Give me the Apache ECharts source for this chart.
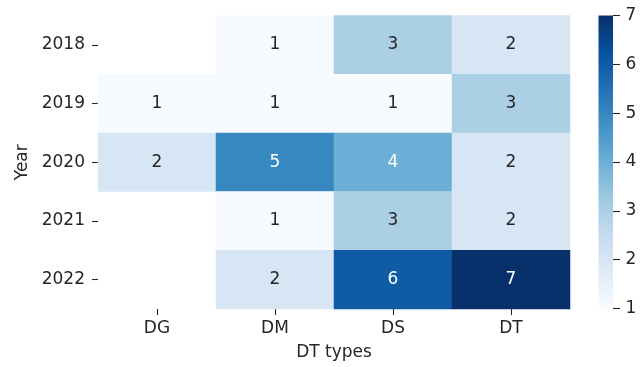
<!DOCTYPE html>
<html>
<head>
<meta charset="utf-8">
<script src="https://cdn.jsdelivr.net/npm/echarts@6/dist/echarts.min.js"></script>
<style>
  html, body { margin: 0; padding: 0; background: #fff; }
  #chart { width: 644px; height: 367px; }
</style>
</head>
<body>
<div id="chart"></div>
<script>
// Count of items per DT type and year
const dtTypes = ['DG', 'DM', 'DS', 'DT'];
const years = ['2018', '2019', '2020', '2021', '2022'];
// one row per year, one entry per DT type (null = no entry)
const counts2018 = [null, 1, 3, 2];
const counts2019 = [1, 1, 1, 3];
const counts2020 = [2, 5, 4, 2];
const counts2021 = [null, 1, 3, 2];
const counts2022 = [null, 2, 6, 7];
const colorTicks = [1, 2, 3, 4, 5, 6, 7];

const rows = [counts2018, counts2019, counts2020, counts2021, counts2022];
const vMin = colorTicks[0];
const vMax = colorTicks[colorTicks.length - 1];

// matplotlib "Blues" colour stops
const blues = ['#f7fbff', '#deebf7', '#c6dbef', '#9ecae1', '#6baed6',
               '#4292c6', '#2171b5', '#08519c', '#08306b'];

const textColor = '#262626';
const fontFamily = 'DejaVu Sans';
const fontSize = 17;

const cells = [];
rows.forEach((row, yi) => {
  row.forEach((v, xi) => {
    if (v === null) return;
    const light = (v - vMin) / (vMax - vMin) > 0.45;
    cells.push({
      value: [xi, yi, v],
      label: { color: light ? '#ffffff' : textColor }
    });
  });
});

const plot = { left: 98, top: 15.5, width: 472, height: 293.5 };
const bar = { left: 598.5, top: 15.5, width: 14.5, height: 293 };

const tickStyle = { color: textColor, width: 1.1 };

// vertical gradient from the low end (bottom) to the high end (top)
const barGradient = new echarts.graphic.LinearGradient(0, 1, 0, 0,
  blues.map((c, i) => ({ offset: i / (blues.length - 1), color: c })));

const chart = echarts.init(document.getElementById('chart'), null, { renderer: 'canvas' });
chart.setOption({
  animation: false,
  backgroundColor: '#ffffff',
  textStyle: { fontFamily: fontFamily },
  grid: [
    { left: plot.left, top: plot.top, width: plot.width, height: plot.height, outerBoundsMode: 'none' },
    { left: bar.left, top: bar.top, width: bar.width, height: bar.height, outerBoundsMode: 'none' }
  ],
  xAxis: [
    {
      gridIndex: 0,
      type: 'category',
      data: dtTypes,
      name: 'DT types',
      nameLocation: 'middle',
      nameGap: 35,
      nameTextStyle: { color: textColor, fontSize: fontSize, fontFamily: fontFamily },
      axisLine: { show: false },
      axisTick: { show: true, alignWithLabel: true, length: 6, lineStyle: tickStyle },
      axisLabel: { color: textColor, fontSize: fontSize, fontFamily: fontFamily, margin: 11 },
      splitLine: { show: false },
      splitArea: { show: false }
    },
    {
      gridIndex: 1,
      type: 'value',
      min: 0,
      max: 1,
      show: false
    }
  ],
  yAxis: [
    {
      gridIndex: 0,
      type: 'category',
      data: years,
      inverse: true,
      name: 'Year',
      nameLocation: 'middle',
      nameGap: 67,
      nameRotate: 90,
      nameTextStyle: { color: textColor, fontSize: fontSize, fontFamily: fontFamily },
      axisLine: { show: false },
      axisTick: { show: true, alignWithLabel: true, length: 6, lineStyle: tickStyle },
      axisLabel: { color: textColor, fontSize: fontSize, fontFamily: fontFamily, margin: 13 },
      splitLine: { show: false },
      splitArea: { show: false }
    },
    {
      gridIndex: 1,
      type: 'value',
      position: 'right',
      min: vMin,
      max: vMax,
      interval: 1,
      axisLine: { show: false, onZero: false },
      axisTick: { show: true, length: 7, lineStyle: tickStyle },
      axisLabel: { color: textColor, fontSize: fontSize, fontFamily: fontFamily, margin: 12.5 },
      splitLine: { show: false }
    }
  ],
  visualMap: {
    type: 'continuous',
    show: false,
    min: vMin,
    max: vMax,
    seriesIndex: 0,
    inRange: { color: blues }
  },
  series: [
    {
      type: 'heatmap',
      xAxisIndex: 0,
      yAxisIndex: 0,
      data: cells,
      label: {
        show: true,
        fontSize: fontSize,
        fontFamily: fontFamily,
        formatter: p => String(p.value[2])
      },
      itemStyle: { borderWidth: 0 },
      emphasis: { disabled: true }
    },
    {
      // colour bar: one rectangle spanning the full value range
      type: 'custom',
      xAxisIndex: 1,
      yAxisIndex: 1,
      data: [[0, vMin, 1, vMax]],
      silent: true,
      renderItem: (params, api) => {
        const p0 = api.coord([api.value(0), api.value(3)]);
        const p1 = api.coord([api.value(2), api.value(1)]);
        return {
          type: 'rect',
          shape: { x: p0[0], y: p0[1], width: p1[0] - p0[0], height: p1[1] - p0[1] },
          style: { fill: barGradient }
        };
      }
    }
  ]
});
</script>
</body>
</html>
